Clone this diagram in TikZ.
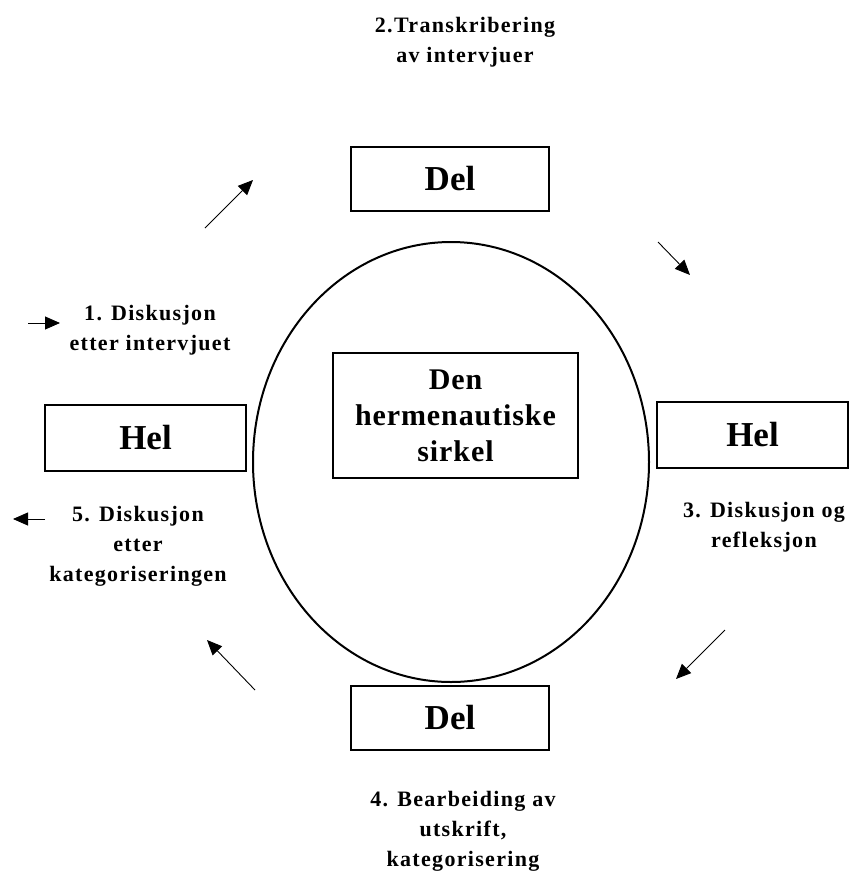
\documentclass[tikz,border=0pt]{standalone}
\usepackage{fontspec}
\setmainfont{Liberation Serif}
\newfontfamily\stagefont{Liberation Serif}[LetterSpace=6]
\newfontfamily\centrefont{Liberation Serif}[LetterSpace=3]
\usetikzlibrary{arrows.meta}

\begin{document}
\begin{tikzpicture}[x=1pt,y=-1pt,
  part/.style={draw, line width=1.2pt, inner sep=0pt, minimum height=64pt, font=\fontsize{35}{40}\selectfont\bfseries},
  stage/.style={align=center, inner sep=0pt, font=\stagefont\fontsize{22}{30}\selectfont\bfseries},
  flow/.style={-{Triangle[length=15pt,width=13pt]}, line width=0.9pt}]
\useasboundingbox (0,0) rectangle (850,873);

\draw[line width=2pt] (451,462) ellipse [x radius=198, y radius=220];
\node[draw, line width=2.4pt, minimum width=245pt, minimum height=125pt, align=center, inner sep=0pt,
  font=\centrefont\fontsize{30}{36}\selectfont\bfseries] (circle) at (455.5,415.5) {Den\\hermenautiske\\sirkel};

\node[part, minimum width=198pt] (deltop) at (450,179) {Del};
\node[part, minimum width=198pt] (delbottom) at (450,718) {Del};
\node[part, minimum width=201pt, minimum height=66pt] (helleft) at (145.5,438) {Hel};
\node[part, minimum width=191pt, minimum height=66pt] (helright) at (752.5,435) {Hel};

\node[stage] (s1) at (150,330) {1. Diskusjon\\etter intervjuet};
\node[stage] (s2) at (465,42) {2.Transkribering\\av intervjuer};
\node[stage] (s3) at (764,527) {3. Diskusjon og\\refleksjon};
\node[stage] (s4) at (463,831) {4. Bearbeiding av\\utskrift,\\kategorisering};
\node[stage] (s5) at (138,546) {5. Diskusjon\\etter\\kategoriseringen};

\coordinate (a1) at (28,323);   \coordinate (b1) at (60,323);
\coordinate (a2) at (205,228);  \coordinate (b2) at (253,180);
\coordinate (a3) at (658,242);  \coordinate (b3) at (690,275);
\coordinate (a4) at (725,630);  \coordinate (b4) at (676,679);
\coordinate (a5) at (255,690);  \coordinate (b5) at (207,640);
\coordinate (a6) at (45,519);   \coordinate (b6) at (13,519);

\draw[flow] (a1) -- (b1);
\draw[flow] (a2) -- (b2);
\draw[flow] (a3) -- (b3);
\draw[flow] (a4) -- (b4);
\draw[flow] (a5) -- (b5);
\draw[flow] (a6) -- (b6);
\end{tikzpicture}
\end{document}
